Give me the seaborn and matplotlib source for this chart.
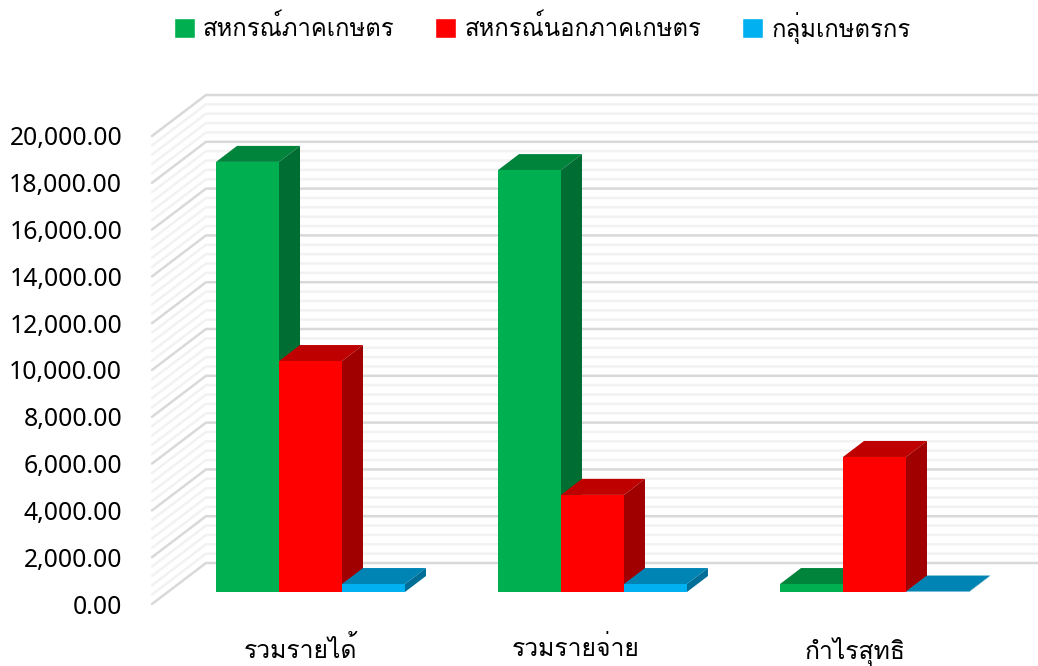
import matplotlib
matplotlib.use('Agg')
import matplotlib.pyplot as plt
from matplotlib.patches import Polygon
from matplotlib.transforms import IdentityTransform, ScaledTranslation
import numpy as np
import pandas as pd
import seaborn as sns

categories = ['รวมรายได้', 'รวมรายจ่าย', 'กำไรสุทธิ']
series_names = ['สหกรณ์ภาคเกษตร', 'สหกรณ์นอกภาคเกษตร', 'กลุ่มเกษตรกร']
agri = [18380, 18030, 340]
non_agri = [9870, 4150, 5770]
farmers = [340, 340, 20]
y_ticks = list(range(0, 20001, 2000))

colors = ['#00B050', '#FF0000', '#00B0F0']
top_colors = ['#00843C', '#BF0000', '#0084B4']
side_colors = ['#006E32', '#A00000', '#006E96']

sns.set_theme(style='white')
plt.rcParams['font.family'] = ['Noto Sans', 'Loma', 'DejaVu Sans']

W, H = 1038, 666
df = pd.DataFrame({'cat': categories * 3,
                   'series': np.repeat(series_names, 3),
                   'value': agri + non_agri + farmers})

fig = plt.figure(figsize=(W / 100, H / 100), dpi=100)
ax = fig.add_axes([152 / W, (H - 592) / H, (W - 152) / W, 468 / H])
sns.barplot(data=df, x='cat', y='value', hue='series', palette=colors, width=0.67,
            saturation=1, errorbar=None, ax=ax, zorder=50)
ax.set_xlim((152 - 310.5) / 282, (W - 310.5) / 282)
ax.set_ylim(0, 20000)
ax.set_xlabel('')
ax.set_ylabel('')
sns.despine(ax=ax, left=True, bottom=True)
ax.set_facecolor('none')

# walls, in pixels from the value scale
px = IdentityTransform()
for v in range(0, 20001, 400):
    y = ax.transData.transform((0, v))[1]
    major = v % 2000 == 0
    ax.plot([152, 206, W], [y - 12, y + 29, y + 29], transform=px, clip_on=False,
            color='#D9D9D9' if major else '#F2F2F2', lw=1.8, zorder=3 if major else 2)

# 3d sides of the bars
dx, dy = 21, 16
bars = [p for p in ax.patches if p.get_height() > 0]
bars = sorted(bars, key=lambda p: p.get_x())
for i, bar in enumerate(bars):
    k = [c for c in range(3) if matplotlib.colors.same_color(bar.get_facecolor(), colors[c])][0]
    (x0, y0), (x1, y1) = ax.transData.transform([(bar.get_x(), 0),
                                                 (bar.get_x() + bar.get_width(), bar.get_height())])
    z = 10 + i
    bar.set_zorder(z + 0.5)
    bar.set_edgecolor('none')
    ax.add_patch(Polygon([(x0, y1), (x1, y1), (x1 + dx, y1 + dy), (x0 + dx, y1 + dy)], closed=True,
                         facecolor=top_colors[k], edgecolor='none', transform=px, clip_on=False, zorder=z))
    ax.add_patch(Polygon([(x1, y0), (x1 + dx, y0 + dy), (x1 + dx, y1 + dy), (x1, y1)], closed=True,
                         facecolor=side_colors[k], edgecolor='none', transform=px, clip_on=False, zorder=z))

ax.set_yticks(y_ticks)
ax.set_yticklabels([f'{v:,.2f}' for v in y_ticks])
ax.tick_params(axis='y', length=0, pad=21.5, labelsize=17.8, labelcolor='black')
ax.tick_params(axis='x', length=0, pad=32.5, labelsize=17.8, labelcolor='black')
for lab in ax.get_yticklabels():
    lab.set_transform(lab.get_transform() + ScaledTranslation(0, -12 / 100, fig.dpi_scale_trans))
for lab, shift in zip(ax.get_xticklabels(), [-10, -17, -19]):
    lab.set_transform(lab.get_transform() + ScaledTranslation(shift / 100, 0, fig.dpi_scale_trans))

sns.move_legend(ax, 'upper center', bbox_to_anchor=(542 / W, 1 + 10 / H), bbox_transform=fig.transFigure, ncol=3,
                title=None, frameon=False, fontsize=17.2, labelcolor='black', handlelength=0.88, handleheight=0.88,
                columnspacing=1.72, handletextpad=0.33)

fig.savefig('out.png', dpi=100)
